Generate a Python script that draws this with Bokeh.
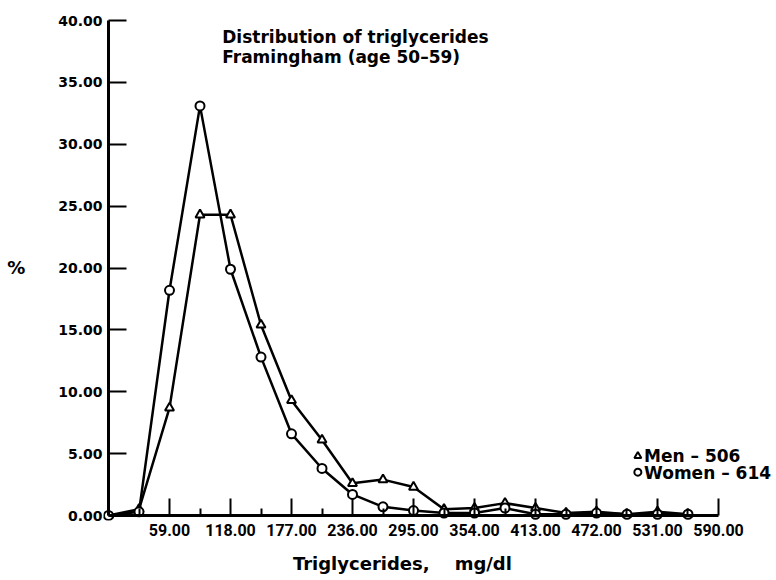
from bokeh.plotting import figure
from bokeh.models import Range1d, FixedTicker, LinearAxis, PrintfTickFormatter
from bokeh.core.properties import value
from bokeh.embed import file_html
from bokeh.resources import INLINE

# Triglyceride class midpoints (mg/dl) and percentage of each group
triglycerides = [0, 29.5, 59, 88.5, 118, 147.5, 177, 206.5, 236, 265.5,
                 295, 324.5, 354, 383.5, 413, 442.5, 472, 501.5, 531, 560.5]
men_pct = [0.0, 0.5, 8.7, 24.3, 24.3, 15.4, 9.3, 6.1, 2.6, 2.9,
           2.3, 0.5, 0.6, 1.0, 0.6, 0.2, 0.3, 0.1, 0.3, 0.1]
women_pct = [0.0, 0.3, 18.2, 33.1, 19.9, 12.8, 6.6, 3.8, 1.7, 0.7,
             0.4, 0.2, 0.2, 0.6, 0.1, 0.1, 0.2, 0.1, 0.1, 0.1]

x_major_ticks = [0, 59, 118, 177, 236, 295, 354, 413, 472, 531, 590]
x_minor_ticks = [29.5, 88.5, 147.5, 206.5, 265.5, 324.5, 383.5, 442.5, 501.5, 560.5]
y_major_ticks = [0, 5, 10, 15, 20, 25, 30, 35, 40]

FONT = "DejaVu Sans"
TICK_FONT = "Roboto"
NBSP = "\u00a0"

p = figure(width=776, height=580, output_backend="svg", toolbar_location=None,
           x_range=Range1d(-4.84, 646.1), y_range=Range1d(-0.404, 40.485),
           min_border_left=103, min_border_right=0, min_border_top=14,
           min_border_bottom=60)
p.outline_line_color = None
p.grid.visible = False
p.background_fill_color = "white"
p.border_fill_color = "white"


def style_labels(ax, standoff, font, size):
    ax.axis_line_color = None
    ax.major_tick_line_color = None
    ax.minor_tick_line_color = None
    ax.major_tick_in = 0
    ax.major_tick_out = 0
    ax.minor_tick_in = 0
    ax.minor_tick_out = 0
    ax.formatter = PrintfTickFormatter(format="%.2f")
    ax.major_label_standoff = standoff
    ax.major_label_text_font = font
    ax.major_label_text_font_size = size
    ax.major_label_text_font_style = "bold"
    ax.major_label_text_color = "black"
    ax.axis_label_text_font = FONT
    ax.axis_label_text_font_style = "bold"
    ax.axis_label_text_color = "black"


def style_lines(ax, tick_in, minor_in):
    ax.fixed_location = 0
    ax.axis_line_width = 3
    ax.axis_line_color = "black"
    ax.major_tick_in = tick_in
    ax.major_tick_out = 0
    ax.minor_tick_in = minor_in
    ax.minor_tick_out = 0
    ax.major_tick_line_width = 2
    ax.minor_tick_line_width = 2
    ax.major_label_text_color = None
    ax.major_label_text_font_size = "0px"
    ax.major_label_standoff = 0


# tick labels along the frame edges ("0.00" is shared at the origin)
xlab = p.xaxis[0]
xlab.ticker = FixedTicker(ticks=x_major_ticks[1:], minor_ticks=[])
style_labels(xlab, 3, TICK_FONT, "16px")
# trailing no-break spaces move the centred title towards the left
xlab.axis_label = "Triglycerides," + NBSP * 4 + "mg/dl" + NBSP * 12
xlab.axis_label_standoff = 14
xlab.axis_label_text_font_size = "18px"

ylab = p.yaxis[0]
ylab.ticker = FixedTicker(ticks=y_major_ticks, minor_ticks=[])
style_labels(ylab, 1, FONT, "14px")
ylab.axis_label = "%"
ylab.axis_label_orientation = "horizontal"
ylab.axis_label_standoff = 30
ylab.axis_label_text_font_size = "18px"

# axis lines and ticks through the origin
xline = LinearAxis(ticker=FixedTicker(ticks=x_major_ticks, minor_ticks=x_minor_ticks),
                   bounds=(0, 590))
style_lines(xline, 17, 7)
p.add_layout(xline, "below")

yline = LinearAxis(ticker=FixedTicker(ticks=y_major_ticks, minor_ticks=[]),
                   bounds=(0, 40))
style_lines(yline, 18, 0)
p.add_layout(yline, "left")

# series
p.line(triglycerides, men_pct, line_color="black", line_width=2.5)
p.line(triglycerides, women_pct, line_color="black", line_width=2.5)
p.scatter(triglycerides, men_pct, marker="triangle", size=9,
          fill_color="white", line_color="black", line_width=2)
p.scatter(triglycerides, women_pct, marker="circle", size=9,
          fill_color="white", line_color="black", line_width=2)

# title lines
p.text(x=[110, 110], y=[38.7, 37.05],
       text=["Distribution of triglycerides", "Framingham (age 50\u201359)"],
       text_font=value(FONT), text_font_size="17px", text_font_style="bold",
       text_color="black", text_align="left", text_baseline="middle")

# legend
p.scatter([512], [4.8], marker="triangle", size=7, fill_color="white",
          line_color="black", line_width=2)
p.scatter([512], [3.5], marker="circle", size=7, fill_color="white",
          line_color="black", line_width=2)
p.text(x=[518, 518], y=[4.8, 3.45], text=["Men \u2013 506", "Women \u2013 614"],
       text_font=value(FONT), text_font_size="17px", text_font_style="bold",
       text_color="black", text_align="left", text_baseline="middle")

open("out.html", "w").write(file_html(p, INLINE))
